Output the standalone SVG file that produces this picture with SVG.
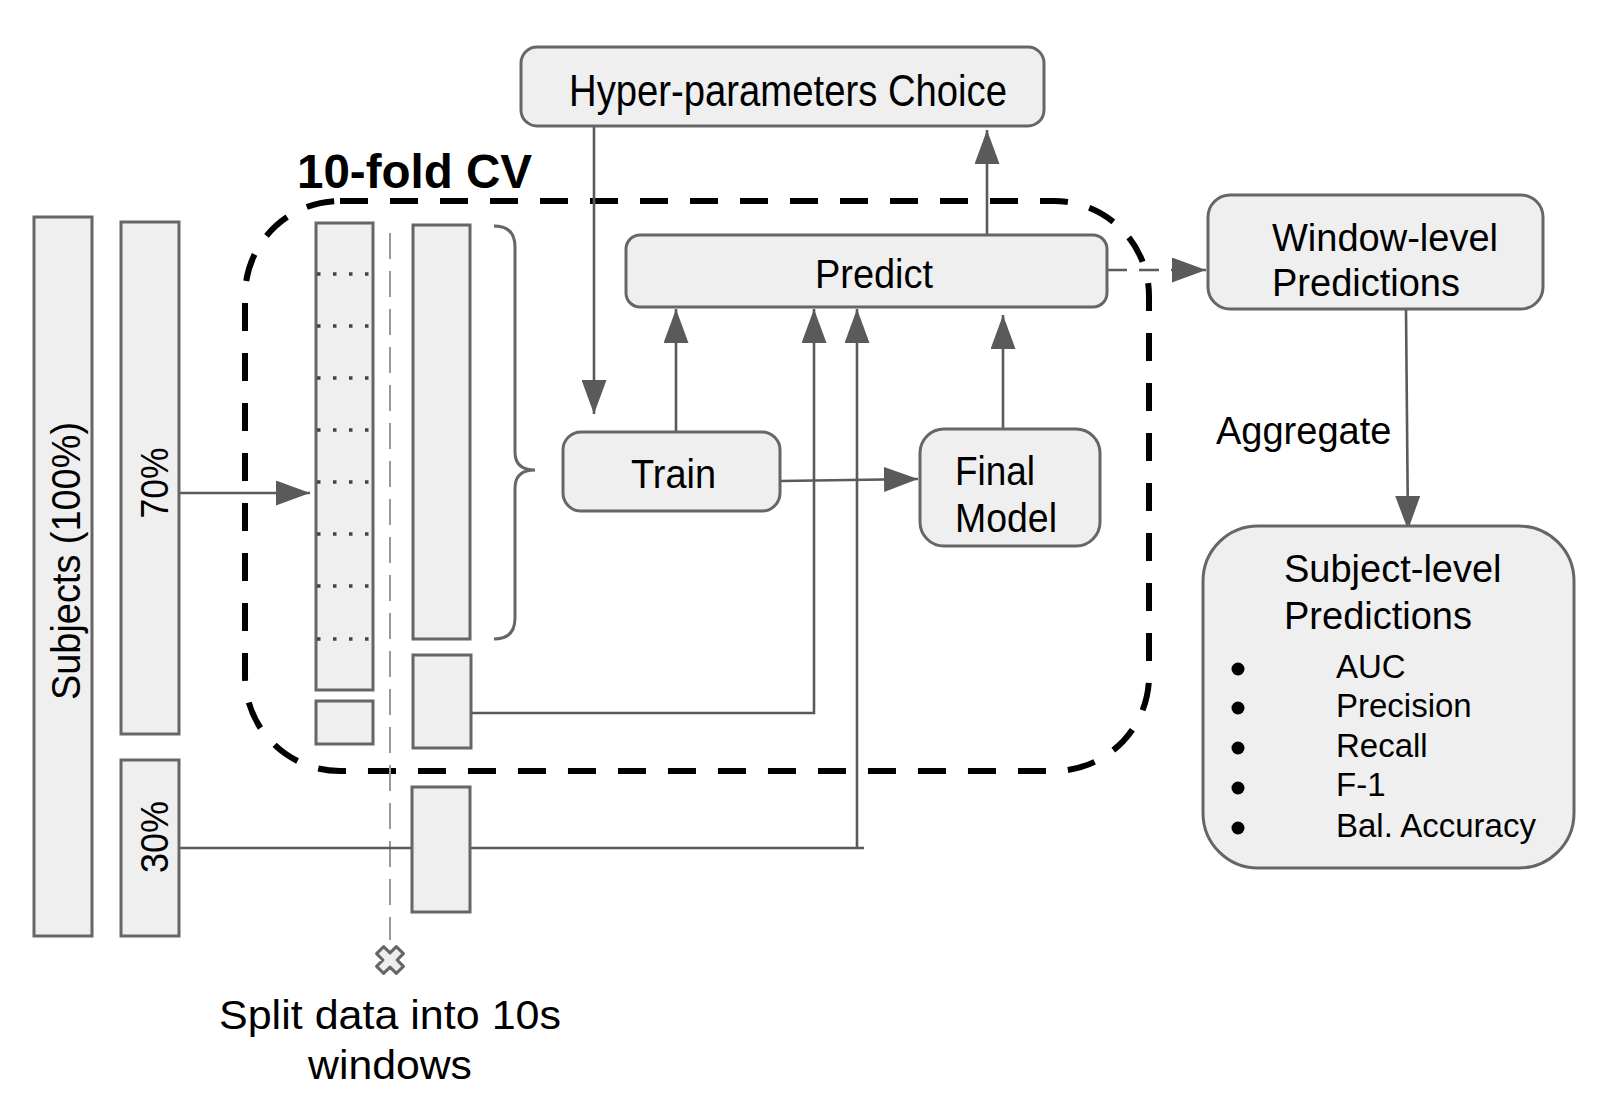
<svg xmlns="http://www.w3.org/2000/svg" width="1604" height="1114" viewBox="0 0 1604 1114">
<style>
.box{fill:#efefef;stroke:#666;stroke-width:3}
.bar{fill:#efefef;stroke:#666;stroke-width:3}
.t{font-family:"Liberation Sans",Arial,sans-serif;fill:#000}
.c{fill:none;stroke:#5a5a5a;stroke-width:2.6}
.dots{stroke:#444;stroke-width:3.5;stroke-dasharray:3.5 12.5}
</style>
<defs>
<marker id="ah" markerUnits="userSpaceOnUse" markerWidth="34" markerHeight="25" refX="34" refY="12.5" orient="auto">
<path d="M0,0 L34,12.5 L0,25 z" fill="#5a5a5a"/>
</marker>
</defs>
<rect width="1604" height="1114" fill="#fff"/>

<g id="cv-frame">
<rect x="245" y="201" width="904" height="570" rx="95" ry="95" fill="none" stroke="#000" stroke-width="6" stroke-dasharray="28 22"/>
<text class="t" x="297" y="188" font-size="48" font-weight="bold" textLength="235" lengthAdjust="spacingAndGlyphs">10-fold CV</text>
</g>

<g id="split-line">
<line x1="390" y1="233" x2="390" y2="940" stroke="#999" stroke-width="2" stroke-dasharray="26 12"/>
</g>

<g id="connectors">
<path class="c" d="M180,493 H310" marker-end="url(#ah)"/>
<path class="c" d="M180,848 H864 M857,848 V309" marker-end="url(#ah)"/>
<path class="c" d="M471,713 H814 V309" marker-end="url(#ah)"/>
<path class="c" d="M594,127 V414" marker-end="url(#ah)"/>
<path class="c" d="M676,432 V309" marker-end="url(#ah)"/>
<path class="c" d="M780,481 L918,479" marker-end="url(#ah)"/>
<path class="c" d="M1003,429 V315" marker-end="url(#ah)"/>
<path class="c" d="M987,235 V130" marker-end="url(#ah)"/>
<path class="c" d="M1107,270 H1206" stroke-dasharray="20 12" marker-end="url(#ah)"/>
<path class="c" d="M1406,310 L1408,530" marker-end="url(#ah)"/>
</g>

<g id="subjects">
<rect class="bar" x="34" y="217" width="58" height="719"/>
<text class="t" font-size="40" text-anchor="middle" textLength="278" lengthAdjust="spacingAndGlyphs" transform="translate(80,561) rotate(-90)">Subjects (100%)</text>
</g>

<g id="split-70">
<rect class="bar" x="121" y="222" width="58" height="512"/>
<text class="t" font-size="39" text-anchor="middle" textLength="71" lengthAdjust="spacingAndGlyphs" transform="translate(168,483) rotate(-90)">70%</text>
</g>

<g id="split-30">
<rect class="bar" x="121" y="760" width="58" height="176"/>
<text class="t" font-size="39" text-anchor="middle" textLength="72" lengthAdjust="spacingAndGlyphs" transform="translate(168,837) rotate(-90)">30%</text>
</g>

<g id="folds">
<rect class="bar" x="316" y="223" width="57" height="467"/>
<line class="dots" x1="317" y1="274" x2="372" y2="274"/>
<line class="dots" x1="317" y1="326" x2="372" y2="326"/>
<line class="dots" x1="317" y1="378" x2="372" y2="378"/>
<line class="dots" x1="317" y1="430" x2="372" y2="430"/>
<line class="dots" x1="317" y1="482" x2="372" y2="482"/>
<line class="dots" x1="317" y1="534" x2="372" y2="534"/>
<line class="dots" x1="317" y1="586" x2="372" y2="586"/>
<line class="dots" x1="317" y1="639" x2="372" y2="639"/>
</g>

<g id="fold-val">
<rect class="bar" x="316" y="701" width="57" height="43"/>
</g>

<g id="windows-train">
<rect class="bar" x="413" y="225" width="57" height="414"/>
<path d="M494,226 Q515,226 515,247 V452 Q515,470 535,470 Q515,470 515,488 V618 Q515,639 494,639" fill="none" stroke="#666" stroke-width="3"/>
</g>

<g id="windows-val">
<rect class="bar" x="413" y="655" width="58" height="93"/>
</g>

<g id="windows-test">
<rect class="bar" x="412" y="787" width="58" height="125"/>
</g>

<g id="split-marker">
<polygon points="-5,-14 5,-14 5,-5 14,-5 14,5 5,5 5,14 -5,14 -5,5 -14,5 -14,-5 -5,-5" transform="translate(390,960) rotate(45)" fill="#eee" stroke="#666" stroke-width="3" stroke-linejoin="round"/>
<text class="t" x="390" y="1029" font-size="41" text-anchor="middle" textLength="342" lengthAdjust="spacingAndGlyphs">Split data into 10s</text>
<text class="t" x="390" y="1079" font-size="41" text-anchor="middle" textLength="164" lengthAdjust="spacingAndGlyphs">windows</text>
</g>

<g id="hyper">
<rect class="box" x="521" y="47" width="523" height="79" rx="16"/>
<text class="t" x="569" y="106" font-size="44" textLength="438" lengthAdjust="spacingAndGlyphs">Hyper-parameters Choice</text>
</g>

<g id="predict">
<rect class="box" x="626" y="235" width="481" height="72" rx="14"/>
<text class="t" x="815" y="288" font-size="40" textLength="118" lengthAdjust="spacingAndGlyphs">Predict</text>
</g>

<g id="train">
<rect class="box" x="563" y="432" width="217" height="79" rx="18"/>
<text class="t" x="631" y="488" font-size="40" textLength="85" lengthAdjust="spacingAndGlyphs">Train</text>
</g>

<g id="final-model">
<rect class="box" x="920" y="429" width="180" height="117" rx="24"/>
<text class="t" x="955" y="485" font-size="40" textLength="80" lengthAdjust="spacingAndGlyphs">Final</text>
<text class="t" x="955" y="532" font-size="40" textLength="102" lengthAdjust="spacingAndGlyphs">Model</text>
</g>

<g id="window-level">
<rect class="box" x="1208" y="195" width="335" height="114" rx="22"/>
<text class="t" x="1272" y="251" font-size="38">Window-level</text>
<text class="t" x="1272" y="296" font-size="38">Predictions</text>
</g>

<g id="aggregate-label">
<text class="t" x="1216" y="444" font-size="38">Aggregate</text>
</g>

<g id="subject-level">
<rect class="box" x="1203" y="526" width="371" height="342" rx="55"/>
<text class="t" x="1284" y="582" font-size="38">Subject-level</text>
<text class="t" x="1284" y="629" font-size="38">Predictions</text>
<circle cx="1238" cy="669" r="6.5" fill="#000"/>
<circle cx="1238" cy="708" r="6.5" fill="#000"/>
<circle cx="1238" cy="748" r="6.5" fill="#000"/>
<circle cx="1238" cy="788" r="6.5" fill="#000"/>
<circle cx="1238" cy="828" r="6.5" fill="#000"/>
<text class="t" x="1336" y="678" font-size="33">AUC</text>
<text class="t" x="1336" y="717" font-size="33">Precision</text>
<text class="t" x="1336" y="757" font-size="33">Recall</text>
<text class="t" x="1336" y="796" font-size="33">F-1</text>
<text class="t" x="1336" y="837" font-size="33">Bal. Accuracy</text>
</g>
</svg>
